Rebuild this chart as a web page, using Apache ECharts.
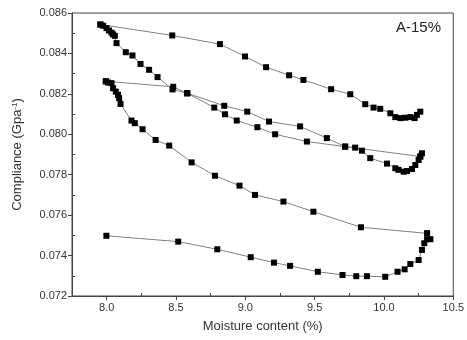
<!DOCTYPE html>
<html>
<head>
<meta charset="utf-8">
<script src="https://cdn.jsdelivr.net/npm/echarts@6/dist/echarts.min.js"></script>
<style>
  html, body { margin: 0; padding: 0; background: #fff; }
  #chart { width: 467px; height: 340px; }
</style>
</head>
<body>
<div id="chart"></div>
<script>
// tick values
const xMajor = [8.0, 8.5, 9.0, 9.5, 10.0, 10.5]
const xMinor = [8.25, 8.75, 9.25, 9.75, 10.25]
const yMajor = [0.072, 0.074, 0.076, 0.078, 0.080, 0.082, 0.084, 0.086]
const yMinor = [0.073, 0.075, 0.077, 0.079, 0.081, 0.083, 0.085]

// measured branches, [moisture %, compliance]
const branchTop = [
  [10.262, 0.08112], [10.238, 0.08096], [10.221, 0.0808], [10.19, 0.08085], [10.154, 0.08082],
  [10.118, 0.0808], [10.082, 0.08085], [10.046, 0.08104], [9.973, 0.08126], [9.925, 0.08132],
  [9.865, 0.08149], [9.757, 0.08198], [9.619, 0.08223], [9.419, 0.08269], [9.316, 0.08292],
  [9.15, 0.08332], [8.998, 0.08385], [8.817, 0.08446], [8.473, 0.08489], [7.955, 0.08543]
]
const branchSteep = [
  [7.955, 0.08543], [7.975, 0.08537], [7.999, 0.08525], [8.017, 0.08513], [8.035, 0.08503],
  [8.046, 0.08494], [8.059, 0.08487], [8.071, 0.08451], [8.138, 0.08406], [8.186, 0.0839],
  [8.244, 0.08348], [8.306, 0.08319], [8.367, 0.08283], [8.475, 0.08222], [8.581, 0.08203]
]
const branchMidUpper = [
  [8.581, 0.08203], [8.848, 0.08141], [9.014, 0.08112], [9.171, 0.08063], [9.395, 0.08039],
  [9.588, 0.07981], [9.72, 0.07939], [9.792, 0.07934], [9.841, 0.07919], [9.901, 0.07882],
  [10.022, 0.07855], [10.082, 0.07832], [10.105, 0.07824], [10.142, 0.07815], [10.166, 0.07818],
  [10.202, 0.07828], [10.226, 0.07848], [10.25, 0.07873], [10.262, 0.0789], [10.274, 0.07906]
]
const branchMidLower = [
  [7.994, 0.08262], [8.48, 0.08235], [8.581, 0.08203], [8.776, 0.08132], [8.853, 0.08099],
  [8.938, 0.08068], [9.087, 0.08035], [9.215, 0.08], [9.444, 0.07964], [9.72, 0.07939],
  [10.262, 0.0789]
]
const branchDown = [
  [7.994, 0.08262], [8.01, 0.08256], [8.035, 0.08253], [8.046, 0.08228], [8.066, 0.08211],
  [8.082, 0.08195], [8.09, 0.08179], [8.1, 0.0815], [8.179, 0.08068], [8.203, 0.08055],
  [8.259, 0.08025], [8.353, 0.07972], [8.451, 0.07944], [8.613, 0.07861], [8.781, 0.07795],
  [8.958, 0.07746], [9.07, 0.077], [9.275, 0.07667], [9.491, 0.07617], [9.834, 0.0754],
  [10.311, 0.0751]
]
const branchBottom = [
  [7.998, 0.07498], [8.516, 0.07469], [8.798, 0.07431], [9.039, 0.07392], [9.207, 0.07365],
  [9.323, 0.07349], [9.523, 0.0732], [9.701, 0.07304], [9.8, 0.07298], [9.877, 0.07298],
  [10.009, 0.07295], [10.098, 0.0732], [10.149, 0.07332], [10.19, 0.07358], [10.25, 0.07378],
  [10.274, 0.07428], [10.291, 0.07461], [10.311, 0.07481], [10.335, 0.07481], [10.311, 0.0751]
]

const chart = echarts.init(document.getElementById('chart'))

const font = 'Liberation Sans, Arial, sans-serif'
const branches = [branchTop, branchSteep, branchMidUpper, branchMidLower, branchDown, branchBottom]

function lineSeries(data) {
  return {
    type: 'line',
    data: data,
    symbol: 'rect',
    symbolSize: 6,
    itemStyle: { color: '#000' },
    lineStyle: { color: '#808080', width: 1 },
    z: 3
  }
}

chart.setOption({
  animation: false,
  textStyle: { fontFamily: font },
  grid: { left: 72, right: 12, top: 13, bottom: 44, show: true, borderColor: '#444', borderWidth: 1 },
  graphic: [{
    type: 'text',
    left: 396,
    top: 20,
    style: { text: 'A-15%', fontSize: 15, fontFamily: font, fill: '#222' }
  }],
  xAxis: [{
    type: 'value',
    min: 7.75,
    max: 10.5,
    axisLine: { lineStyle: { color: '#444' } },
    axisTick: { customValues: xMajor, length: 4, lineStyle: { color: '#444' } },
    axisLabel: {
      customValues: xMajor, fontSize: 11, color: '#333', margin: 6,
      formatter: v => v.toFixed(1)
    },
    splitLine: { show: false },
    name: 'Moisture content (%)',
    nameLocation: 'middle',
    nameGap: 24,
    nameTextStyle: { fontSize: 13, color: '#333' }
  }, {
    type: 'value',
    min: 7.75,
    max: 10.5,
    position: 'bottom',
    axisLine: { show: false },
    axisTick: { customValues: xMinor, inside: true, length: 3, lineStyle: { color: '#444' } },
    axisLabel: { show: false },
    splitLine: { show: false }
  }],
  yAxis: [{
    type: 'value',
    min: 0.072,
    max: 0.086,
    axisLine: { show: true, lineStyle: { color: '#444' } },
    axisTick: { show: true, customValues: yMajor, length: 4, lineStyle: { color: '#444' } },
    axisLabel: {
      customValues: yMajor, fontSize: 11, color: '#333', margin: 5,
      formatter: v => v.toFixed(3)
    },
    splitLine: { show: false },
    name: 'Compliance (Gpa{sup|-1})',
    nameLocation: 'middle',
    nameGap: 48,
    nameTextStyle: {
      fontSize: 13, color: '#333',
      rich: { sup: { fontSize: 8, verticalAlign: 'top', lineHeight: 8, color: '#333' } }
    }
  }, {
    type: 'value',
    min: 0.072,
    max: 0.086,
    position: 'left',
    axisLine: { show: false },
    axisTick: { show: true, customValues: yMinor, inside: true, length: 3, lineStyle: { color: '#444' } },
    axisLabel: { show: false },
    splitLine: { show: false }
  }],
  series: branches.map(lineSeries)
})

window.addEventListener('resize', () => chart.resize())
</script>
</body>
</html>
